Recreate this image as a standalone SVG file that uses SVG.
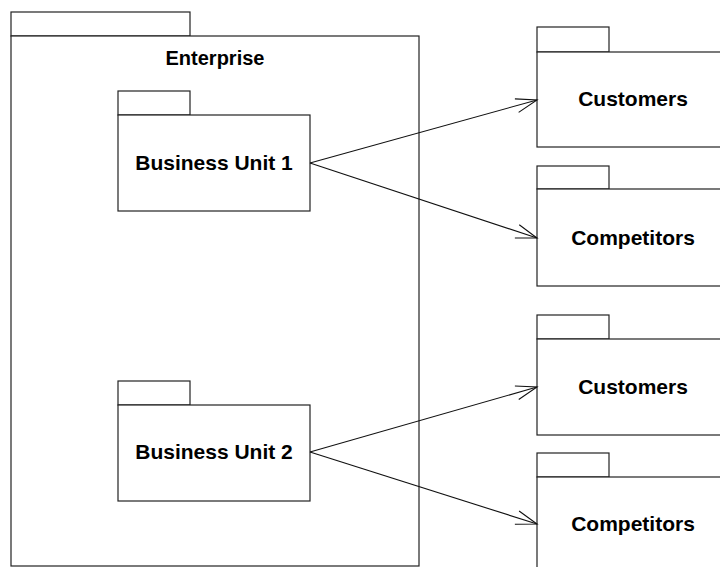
<svg xmlns="http://www.w3.org/2000/svg" width="720" height="567" viewBox="0 0 720 567">
  <defs>
    <style>
      .box { fill: #ffffff; stroke: #222222; stroke-width: 1.2; }
      .lbl { font-family: "Liberation Sans", Arial, sans-serif; font-weight: bold; font-size: 21px; fill: #000000; text-anchor: middle; }
      .big { font-size: 20px; }
      .dep { fill: none; stroke: #111111; stroke-width: 1.1; marker-end: url(#open); }
    </style>
    <marker id="open" markerUnits="userSpaceOnUse" markerWidth="30" markerHeight="20" refX="0" refY="0" viewBox="-24 -10 26 20" orient="auto">
      <path d="M-21,-7 L0,0 L-21,7" fill="none" stroke="#111111" stroke-width="1.1"/>
    </marker>
  </defs>
  <rect width="720" height="567" fill="#ffffff"/>

  <!-- Enterprise package -->
  <g id="enterprise">
    <rect class="box" x="11" y="12" width="179" height="24"/>
    <rect class="box" x="11" y="36" width="408" height="530"/>
    <text class="lbl big" x="215" y="65">Enterprise</text>
  </g>

  <g id="business-unit-1">
    <rect class="box" x="118" y="91" width="72" height="24"/>
    <rect class="box" x="118" y="115" width="192" height="96"/>
    <text class="lbl" x="214" y="170">Business Unit 1</text>
  </g>

  <g id="business-unit-2">
    <rect class="box" x="118" y="381" width="72" height="24"/>
    <rect class="box" x="118" y="405" width="192" height="96"/>
    <text class="lbl" x="214" y="459">Business Unit 2</text>
  </g>

  <g id="customers-1">
    <rect class="box" x="537" y="27" width="72" height="25"/>
    <rect class="box" x="537" y="52" width="200" height="95"/>
    <text class="lbl" x="633" y="106">Customers</text>
  </g>

  <g id="competitors-1">
    <rect class="box" x="537" y="166" width="72" height="23"/>
    <rect class="box" x="537" y="189" width="200" height="97"/>
    <text class="lbl" x="633" y="245">Competitors</text>
  </g>

  <g id="customers-2">
    <rect class="box" x="537" y="315" width="72" height="24"/>
    <rect class="box" x="537" y="339" width="200" height="96"/>
    <text class="lbl" x="633" y="394">Customers</text>
  </g>

  <g id="competitors-2">
    <rect class="box" x="537" y="453" width="72" height="24"/>
    <rect class="box" x="537" y="477" width="200" height="100"/>
    <text class="lbl" x="633" y="531">Competitors</text>
  </g>

  <!-- dependencies -->
  <g id="connectors">
    <line class="dep" x1="310" y1="163" x2="537" y2="100"/>
    <line class="dep" x1="310" y1="163" x2="537" y2="238"/>
    <line class="dep" x1="310" y1="452" x2="537" y2="387"/>
    <line class="dep" x1="310" y1="452" x2="537" y2="524"/>
  </g>
</svg>
